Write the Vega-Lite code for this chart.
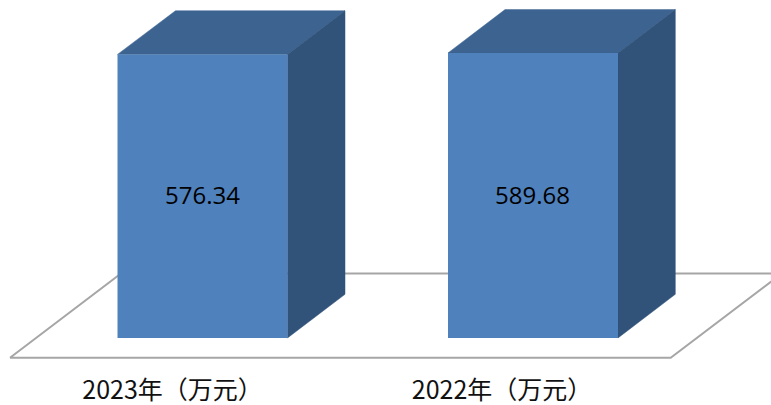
{
"$schema":"https://vega.github.io/schema/vega-lite/v6.json",
"width":771,"height":405,"padding":0,"autosize":{"type":"none"},
"background":"#ffffff",
"config":{"view":{"stroke":null}},
"datasets":{
"floor":[{"seq":1,"x":10,"y":-2120},{"seq":2,"x":670.7,"y":-2120},{"seq":3,"x":782,"y":-1370},{"seq":4,"x":121,"y":-1370},{"seq":5,"x":10,"y":-2120}],
"front":[
{"bar":"2023年（万元）","value":576.34,"base":-1944,"left":117.5,"right":287.5,"labelX":202.5,"labelY":-695,"catX":172.5,"catY":-2418},
{"bar":"2022年（万元）","value":589.68,"base":-1944,"left":448,"right":618,"labelX":532.5,"labelY":-695,"catX":502,"catY":-2418}],
"top":[
{"bar":"2023年（万元）","y":576.34,"l":117.5,"r":287.5},
{"bar":"2023年（万元）","y":964.34,"l":175.5,"r":345},
{"bar":"2022年（万元）","y":589.68,"l":448,"r":618},
{"bar":"2022年（万元）","y":974.68,"l":505,"r":675.3}],
"side":[
{"bar":"2023年（万元）","x":287.5,"t":576.34,"b":-1944},
{"bar":"2023年（万元）","x":345,"t":964.34,"b":-1556},
{"bar":"2022年（万元）","x":618,"t":589.68,"b":-1944},
{"bar":"2022年（万元）","x":675.3,"t":974.68,"b":-1556}]
},
"layer":[
{"data":{"name":"floor"},"mark":{"type":"line","stroke":"#a6a6a6","strokeWidth":2,"clip":true},
 "encoding":{"x":{"field":"x","type":"quantitative","scale":{"domain":[0,771],"nice":false,"zero":false},"axis":null},
 "y":{"field":"y","type":"quantitative","scale":{"domain":[-2540,1060],"nice":false,"zero":false},"axis":null},
 "order":{"field":"seq","type":"quantitative"}}},
{"data":{"name":"top"},"mark":{"type":"area","orient":"horizontal","fill":"#3d6491","stroke":"#3d6491","strokeWidth":0.5},
 "encoding":{"y":{"field":"y","type":"quantitative"},"x":{"field":"l","type":"quantitative"},"x2":{"field":"r"},"detail":{"field":"bar"}}},
{"data":{"name":"side"},"mark":{"type":"area","orient":"vertical","fill":"#31537a","stroke":"#31537a","strokeWidth":0.5},
 "encoding":{"x":{"field":"x","type":"quantitative"},"y":{"field":"t","type":"quantitative"},"y2":{"field":"b"},"detail":{"field":"bar"}}},
{"data":{"name":"front"},"mark":{"type":"bar","fill":"#4f81bd"},
 "encoding":{"x":{"field":"left","type":"quantitative"},"x2":{"field":"right"},"y":{"field":"value","type":"quantitative"},"y2":{"field":"base"}}},
{"data":{"name":"front"},"mark":{"type":"text","font":"Open Sans","fontSize":24,"fill":"#000000","align":"center","baseline":"middle"},
 "encoding":{"x":{"field":"labelX","type":"quantitative"},"y":{"field":"labelY","type":"quantitative"},"text":{"field":"value","type":"quantitative","format":".2f"}}},
{"data":{"name":"front"},"mark":{"type":"text","font":"Noto Sans CJK SC","fontSize":25,"fill":"#111111","align":"center","baseline":"middle"},
 "encoding":{"x":{"field":"catX","type":"quantitative"},"y":{"field":"catY","type":"quantitative"},"text":{"field":"bar"}}}
]
}
